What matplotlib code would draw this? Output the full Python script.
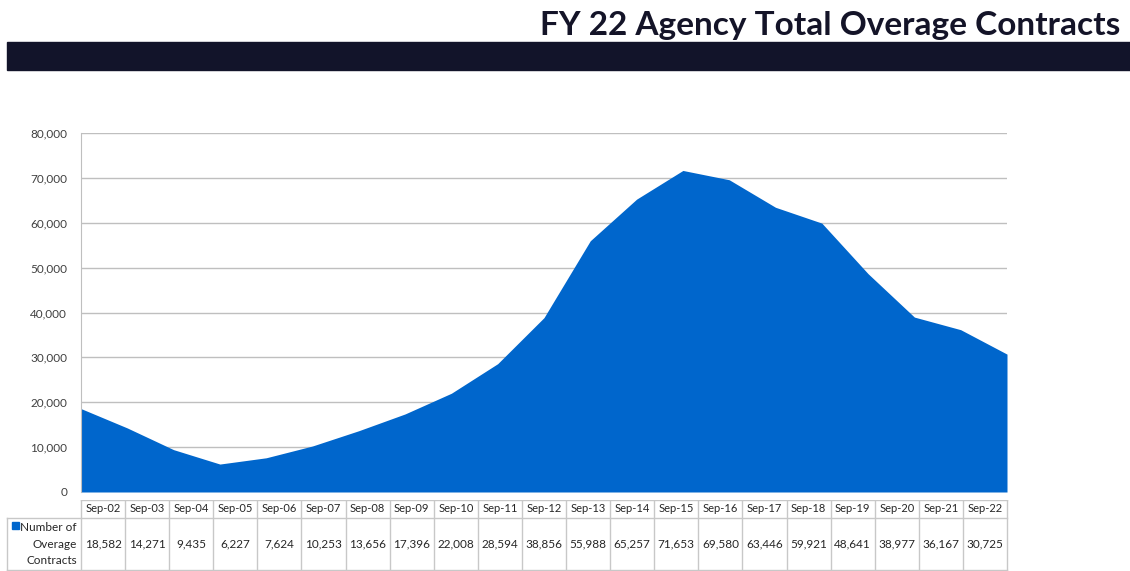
import matplotlib.pyplot as plt
from matplotlib.patches import Rectangle

categories = ["Sep-02", "Sep-03", "Sep-04", "Sep-05", "Sep-06", "Sep-07", "Sep-08",
              "Sep-09", "Sep-10", "Sep-11", "Sep-12", "Sep-13", "Sep-14", "Sep-15",
              "Sep-16", "Sep-17", "Sep-18", "Sep-19", "Sep-20", "Sep-21", "Sep-22"]
contracts = [18582, 14271, 9435, 6227, 7624, 10253, 13656, 17396, 22008, 28594,
             38856, 55988, 65257, 71653, 69580, 63446, 59921, 48641, 38977, 36167, 30725]
series_label = "Number of\nOverage\nContracts"
title = "FY 22 Agency Total Overage Contracts"

W, H = 1130, 571
fill_color = "#0066CC"
grid_color = "#BFBFBF"
plt.rcParams["font.family"] = ["Lato", "DejaVu Sans"]

fig = plt.figure(figsize=(W / 100, H / 100), dpi=100)

# title and dark bar
fig.text(1120 / W, 1 - 25 / H, title, ha="right", va="center",
         fontsize=24, fontweight="bold", color="#141428")
fig.patches.append(Rectangle((7 / W, 1 - 70 / H), 1 - 7 / W, 28 / H,
                             transform=fig.transFigure, color="#12142A"))

# area chart
left, right, top, bottom = 81, 1007, 133, 492
ax = fig.add_axes([left / W, 1 - bottom / H, (right - left) / W, (bottom - top) / H])
x = list(range(len(categories)))
ax.fill_between(x, contracts, color=fill_color, lw=0, zorder=2)
ax.set_xlim(0, len(categories) - 1)
ax.set_ylim(0, 80000)
ax.set_yticks(range(0, 80001, 10000))
ax.set_yticklabels([f"{v:,}" for v in range(0, 80001, 10000)], fontsize=8.5, color="#404040")
ax.set_xticks([])
ax.tick_params(axis="y", length=0, pad=10)
ax.grid(True, axis="y", color=grid_color, lw=1, zorder=0)
for s in ["top", "right", "bottom"]:
    ax.spines[s].set_visible(False)
ax.spines["left"].set_color(grid_color)

# data table below the chart
n = len(categories)
tax = fig.add_axes([0, 0, 1, 1 - 500 / H])
tax.set_xlim(0, W)
tax.set_ylim(0, H - 500)
tax.axis("off")
cw = (right - left) / n
hdr_top, hdr_bot, row_bot = H - 500, H - 518, 1
lc = "#C8C8C8"
tax.plot([left, right], [hdr_top, hdr_top], color=lc, lw=1)
tax.plot([7, right], [hdr_bot, hdr_bot], color=lc, lw=1)
tax.plot([7, right], [row_bot, row_bot], color=lc, lw=1)
tax.plot([7, 7], [hdr_bot, row_bot], color=lc, lw=1)
for i in range(n + 1):
    tax.plot([left + i * cw] * 2, [hdr_top, row_bot], color=lc, lw=1)
for i, (c, v) in enumerate(zip(categories, contracts)):
    cx = left + (i + 0.5) * cw
    tax.text(cx, (hdr_top + hdr_bot) / 2, c, ha="center", va="center", fontsize=8, color="#262626")
    tax.text(cx, (hdr_bot + row_bot) / 2, f"{v:,}", ha="center", va="center", fontsize=8.5, color="#262626")
tax.text(left - 4, (hdr_bot + row_bot) / 2, series_label, ha="right", va="center",
         fontsize=8.5, color="#262626", linespacing=1.6)
tax.add_patch(Rectangle((12, hdr_bot - 11), 7, 7, color=fill_color))

plt.savefig("out.png", dpi=100)
plt.close()
